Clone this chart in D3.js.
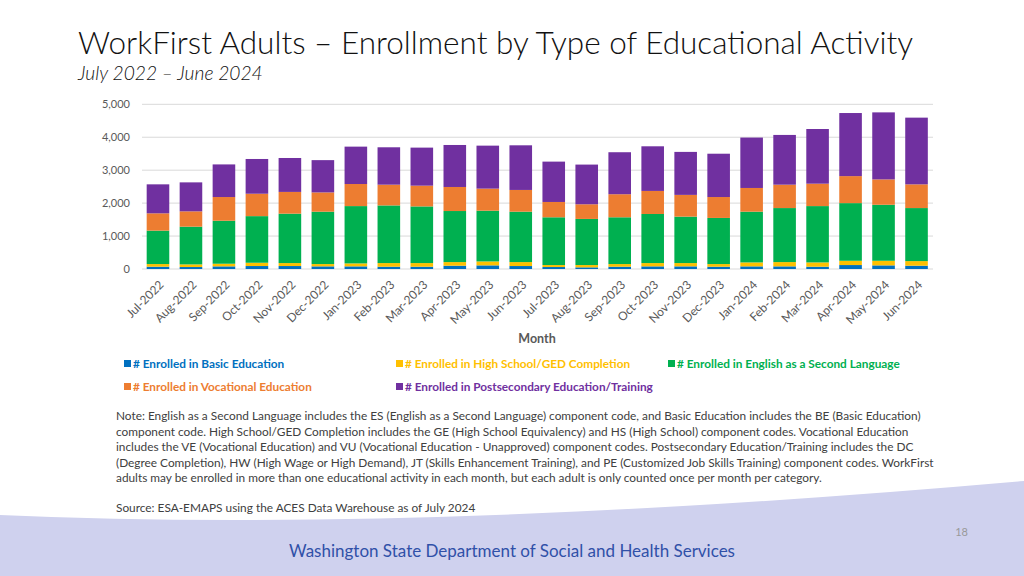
<!DOCTYPE html>
<html>
<head>
<meta charset="utf-8">
<script src="https://cdn.jsdelivr.net/npm/d3@7"></script>
<style>
  body { margin: 0; background: #fff; }
  svg { display: block; font-family: Lato, "Open Sans", sans-serif; }
</style>
</head>
<body>
<div class="chart"></div>
<script>
// months on the x axis
var months = ['Jul-2022','Aug-2022','Sep-2022','Oct-2022','Nov-2022','Dec-2022',
              'Jan-2023','Feb-2023','Mar-2023','Apr-2023','May-2023','Jun-2023',
              'Jul-2023','Aug-2023','Sep-2023','Oct-2023','Nov-2023','Dec-2023',
              'Jan-2024','Feb-2024','Mar-2024','Apr-2024','May-2024','Jun-2024'];

// enrolled counts per month
var basicEd      = [70,60,80,90,90,80,80,70,70,100,110,90,60,50,70,80,80,70,80,80,70,120,110,100];
var highSchool   = [80,80,80,100,90,70,90,110,110,110,120,120,60,70,80,100,100,80,120,130,130,130,140,140];
var esl          = [1015,1145,1305,1415,1500,1590,1740,1750,1720,1550,1540,1530,1450,1400,1420,1490,1410,1400,1540,1640,1710,1750,1700,1610];
var vocational   = [525,465,720,680,660,585,670,630,630,730,670,660,465,445,700,700,660,635,720,710,680,820,770,720];
var postsecond   = [880,880,990,1055,1030,980,1135,1135,1155,1275,1305,1355,1225,1205,1275,1355,1305,1315,1530,1510,1660,1915,2035,2025];

var yTicks = [0, 1000, 2000, 3000, 4000, 5000];

var seriesNames = ['# Enrolled in Basic Education',
                   '# Enrolled in High School/GED Completion',
                   '# Enrolled in English as a Second Language',
                   '# Enrolled in Vocational Education',
                   '# Enrolled in Postsecondary Education/Training'];
var seriesKeys = ['basic','hs','esl','voc','post'];
var colors = ['#0070C0','#FFC000','#00B050','#ED7D31','#7030A0'];

var rows = months.map(function(m, i) {
  return { month: m, basic: basicEd[i], hs: highSchool[i], esl: esl[i], voc: vocational[i], post: postsecond[i] };
});

var svg = d3.select('.chart')
            .append('svg')
            .attr('width', 1024)
            .attr('height', 576);

// footer swoosh
svg.append('path')
   .attr('fill', '#cfd1ee')
   .attr('d', 'M0,515 Q420,534 1024,481 L1024,576 L0,576 Z');

svg.append('text')
   .text('Washington State Department of Social and Health Services')
   .attr('x', 512)
   .attr('y', 557)
   .attr('text-anchor', 'middle')
   .attr('fill', '#3050a8')
   .style('font-size', '17px');

svg.append('text')
   .text('18')
   .attr('x', 968)
   .attr('y', 536)
   .attr('text-anchor', 'end')
   .attr('fill', '#999')
   .style('font-size', '11px');

// title
svg.append('text')
   .text('WorkFirst Adults \u2013 Enrollment by Type of Educational Activity')
   .attr('x', 78)
   .attr('y', 54)
   .attr('fill', '#111')
   .style('font-size', '31.5px')
   .style('font-weight', 300);

svg.append('text')
   .text('July 2022 \u2013 June 2024')
   .attr('x', 78)
   .attr('y', 80)
   .attr('fill', '#111')
   .style('font-size', '19.2px')
   .style('font-style', 'italic')
   .style('font-weight', 300);

var x = d3.scaleBand()
          .domain(months)
          .range([141.5, 933])
          .paddingInner(0.315)
          .paddingOuter(0.157);

var y = d3.scaleLinear()
          .domain([0, 5000])
          .range([269, 104.3]);

// gridlines
svg.append('g')
   .selectAll('line')
   .data(yTicks)
   .enter().append('line')
   .attr('x1', 142)
   .attr('x2', 933)
   .attr('y1', function(d) { return y(d); })
   .attr('y2', function(d) { return y(d); })
   .attr('stroke', '#d9d9d9')
   .attr('stroke-width', 1);

var yAxis = svg.append('g')
               .attr('transform', 'translate(142,0)')
               .call(d3.axisLeft(y).tickValues(yTicks).tickSize(0).tickPadding(12).tickFormat(d3.format(',')));
yAxis.select('.domain').remove();
yAxis.selectAll('text')
     .attr('fill', '#595959')
     .style('font-size', '11px')
     .style('font-family', 'Lato, sans-serif');

var stack = d3.stack().keys(seriesKeys);
var layers = stack(rows);

svg.append('g')
   .selectAll('g')
   .data(layers)
   .enter().append('g')
   .attr('fill', function(d, i) { return colors[i]; })
   .selectAll('rect')
   .data(function(d) { return d; })
   .enter().append('rect')
   .attr('x', function(d) { return x(d.data.month); })
   .attr('width', x.bandwidth())
   .attr('y', function(d) { return y(d[1]); })
   .attr('height', function(d) { return y(d[0]) - y(d[1]); });

var xAxis = svg.append('g')
               .attr('transform', 'translate(0,269)')
               .call(d3.axisBottom(x).tickSize(0));
xAxis.select('.domain').remove();
xAxis.selectAll('text')
     .attr('fill', '#595959')
     .style('font-size', '12px')
     .style('font-family', 'Lato, sans-serif')
     .attr('text-anchor', 'end')
     .attr('dy', '0.3em')
     .attr('y', 0)
     .attr('transform', 'translate(4,14) rotate(-45)');

svg.append('text')
   .text('Month')
   .attr('x', 537)
   .attr('y', 343)
   .attr('text-anchor', 'middle')
   .attr('fill', '#595959')
   .style('font-size', '12.5px')
   .style('font-weight', 700);

// legend
var legendPos = [[124,364],[396,364],[668,364],[124,387],[396,387]];
var legend = svg.append('g')
                .selectAll('g')
                .data(seriesNames)
                .enter().append('g')
                .attr('transform', function(d, i) { return 'translate(' + legendPos[i][0] + ',' + legendPos[i][1] + ')'; });
legend.append('rect')
      .attr('x', 0)
      .attr('y', -4)
      .attr('width', 7)
      .attr('height', 7)
      .attr('fill', function(d, i) { return colors[i]; });
legend.append('text')
      .text(function(d) { return d; })
      .attr('x', 9)
      .attr('y', 4)
      .attr('fill', function(d, i) { return colors[i]; })
      .style('font-size', '11.8px')
      .style('font-weight', 700);

// note
var noteLines = [
  'Note: English as a Second Language includes the ES (English as a Second Language) component code, and Basic Education includes the BE (Basic Education)',
  'component code. High School/GED Completion includes the GE (High School Equivalency) and HS (High School) component codes. Vocational Education',
  'includes the VE (Vocational Education) and VU (Vocational Education - Unapproved) component codes. Postsecondary Education/Training includes the DC',
  '(Degree Completion), HW (High Wage or High Demand), JT (Skills Enhancement Training), and PE (Customized Job Skills Training) component codes. WorkFirst',
  'adults may be enrolled in more than one educational activity in each month, but each adult is only counted once per month per category.'
];
svg.append('g')
   .selectAll('text')
   .data(noteLines)
   .enter().append('text')
   .text(function(d) { return d; })
   .attr('x', 116)
   .attr('y', function(d, i) { return 420 + i * 15.6; })
   .attr('fill', '#404040')
   .style('font-size', '11.85px');

svg.append('text')
   .text('Source: ESA-EMAPS using the ACES Data Warehouse as of July 2024')
   .attr('x', 116)
   .attr('y', 512)
   .attr('fill', '#404040')
   .style('font-size', '11.85px');
</script>
</body>
</html>
